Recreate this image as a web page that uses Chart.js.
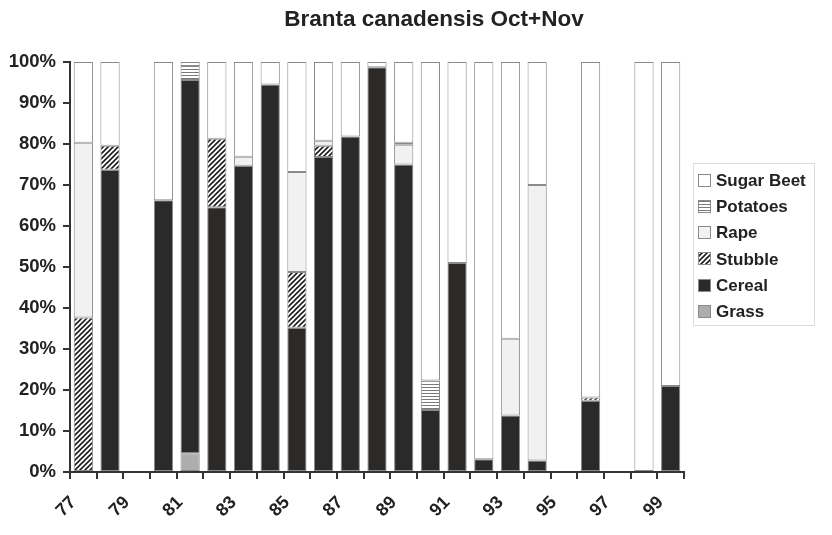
<!DOCTYPE html>
<html>
<head>
<meta charset="utf-8">
<script src="https://cdn.jsdelivr.net/npm/chart.js@4"></script>
<style>body{margin:0;background:#fff}</style>
</head>
<body>
<canvas id="myChart" width="832" height="535"></canvas>
<script>
// years, one bar per year (79, 95 and 97 have no data)
var years = ['77','78','79','80','81','82','83','84','85','86','87','88','89','90','91','92','93','94','95','96','97','98','99'];
var grass = [null,null,null,null,4.6,null,null,null,null,null,null,null,null,null,null,null,null,null,null,null,null,null,null];
var cereal = [null,73.7,null,66.3,91.0,64.6,74.7,94.5,35.2,76.8,81.8,98.7,75.0,15.1,51.0,3.1,13.8,2.8,null,17.4,null,null,21.0];
var stubble = [37.7,5.9,null,null,null,16.7,null,null,13.6,2.8,null,null,null,null,null,null,null,null,null,0.8,null,null,null];
var rape = [42.6,null,null,null,null,null,2.2,null,24.4,1.2,null,null,4.8,null,null,null,18.7,67.2,null,null,null,null,null];
var potatoes = [null,null,null,null,3.4,null,null,null,null,null,null,null,0.5,7.2,null,null,null,null,null,null,null,null,null];
var sugarBeet = [19.7,20.4,null,33.7,1.0,18.7,23.1,5.5,26.8,19.2,18.2,1.3,19.7,77.7,49.0,96.9,67.5,30.0,null,81.8,null,100,79.0];
var yTicks = [0,10,20,30,40,50,60,70,80,90,100];

var txt = '#222';
var edge = '#8a8a8a';
var fontName = '"Liberation Sans", Arial, sans-serif';

function hatchPattern(kind) {
    var c = document.createElement('canvas');
    var g = c.getContext('2d');
    if (kind === 'diag') {
        c.width = 5; c.height = 5;
        g.fillStyle = '#fff';
        g.fillRect(0, 0, 5, 5);
        g.strokeStyle = '#1e1e1e';
        g.lineWidth = 1.6;
        g.beginPath();
        g.moveTo(-1, 6); g.lineTo(6, -1);
        g.moveTo(-1, 1); g.lineTo(1, -1);
        g.moveTo(4, 6); g.lineTo(6, 4);
        g.stroke();
    } else {
        c.width = 4; c.height = 3;
        g.fillStyle = '#fff';
        g.fillRect(0, 0, 4, 3);
        g.fillStyle = '#7a7a7a';
        g.fillRect(0, 0, 4, 1);
    }
    return g.createPattern(c, 'repeat');
}

var ctx = document.getElementById('myChart').getContext('2d');
var stubbleFill = hatchPattern('diag');
var potatoFill = hatchPattern('horiz');

var series = [
    { label: 'Grass', data: grass, fill: '#adadad' },
    { label: 'Cereal', data: cereal, fill: '#2c2929' },
    { label: 'Stubble', data: stubble, fill: stubbleFill },
    { label: 'Rape', data: rape, fill: '#f1f1f1' },
    { label: 'Potatoes', data: potatoes, fill: potatoFill },
    { label: 'Sugar Beet', data: sugarBeet, fill: '#ffffff' }
];

var legendAndTitle = {
    id: 'legendAndTitle',
    afterDraw: function(chart) {
        var c = chart.ctx;
        c.save();
        // title
        c.fillStyle = txt;
        c.font = 'bold 22.5px ' + fontName;
        c.textAlign = 'center';
        c.textBaseline = 'alphabetic';
        c.fillText('Branta canadensis Oct+Nov', 434, 26);
        // legend box
        c.strokeStyle = '#dcdcdc';
        c.lineWidth = 1;
        c.strokeRect(693.5, 163.5, 121, 162);
        c.font = 'bold 17px ' + fontName;
        c.textAlign = 'left';
        c.textBaseline = 'middle';
        for (var i = 0; i < series.length; i++) {
            var s = series[series.length - 1 - i];
            var y = 180 + i * 26.3;
            c.fillStyle = s.fill;
            c.fillRect(698, Math.round(y - 6.5), 13, 13);
            c.strokeStyle = edge;
            c.strokeRect(698.5, Math.round(y - 6.5) + 0.5, 12, 12);
            c.fillStyle = txt;
            c.fillText(s.label, 716, y + 1);
        }
        c.restore();
    }
};

var myChart = new Chart(ctx, {
    type: 'bar',
    data: {
        labels: years,
        datasets: series.map(function(s) {
            return {
                label: s.label,
                data: s.data,
                backgroundColor: s.fill,
                borderColor: edge,
                borderWidth: 1,
                borderSkipped: false,
                barPercentage: 0.72,
                categoryPercentage: 1.0
            };
        })
    },
    options: {
        responsive: false,
        animation: false,
        devicePixelRatio: 1,
        layout: { padding: { top: 62, right: 148, left: 0, bottom: 0 } },
        plugins: {
            legend: { display: false },
            title: { display: false },
            tooltip: { enabled: false }
        },
        scales: {
            x: {
                stacked: true,
                grid: { display: true, drawOnChartArea: false, drawTicks: true, tickLength: 7, color: '#333', lineWidth: 2, offset: true },
                border: { display: true, color: '#333', width: 2 },
                ticks: {
                    autoSkip: false,
                    minRotation: 45,
                    maxRotation: 45,
                    padding: 13,
                    labelOffset: -10,
                    color: txt,
                    font: { family: fontName, size: 18, weight: 'bold' },
                    callback: function(v, i) { return i % 2 === 0 ? years[i] : ''; }
                },
                afterFit: function(scale) { scale.height = 63; }
            },
            y: {
                stacked: true,
                min: 0,
                max: 100,
                afterBuildTicks: function(scale) {
                    scale.ticks = yTicks.map(function(v) { return { value: v }; });
                },
                grid: { display: true, drawOnChartArea: false, drawTicks: true, tickLength: 7, color: '#333', lineWidth: 2 },
                border: { display: true, color: '#333', width: 2 },
                ticks: {
                    padding: 7,
                    color: txt,
                    font: { family: fontName, size: 18.5, weight: 'bold' },
                    callback: function(v) { return v + '%'; }
                },
                afterFit: function(scale) { scale.width = 70; }
            }
        }
    },
    plugins: [legendAndTitle]
});
</script>
</body>
</html>
